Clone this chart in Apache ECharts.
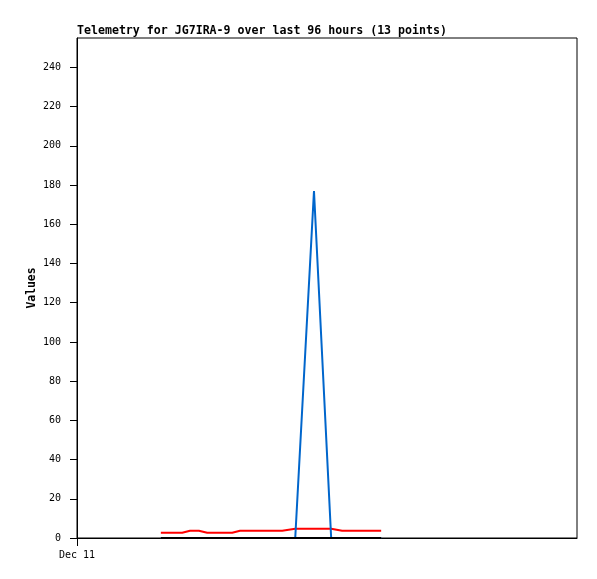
<!DOCTYPE html>
<html><head><meta charset="utf-8">
<script src="https://cdn.jsdelivr.net/npm/echarts@6/dist/echarts.min.js"></script>
<style>html,body{margin:0;padding:0;background:#fff}#c{width:597px;height:579px}</style>
</head><body><div id="c"></div>
<script>
// hours after Dec 11 00:00
const hours = [16.1, 20.2, 21.7, 23.4, 25.0, 29.8, 31.3, 39.4, 41.9, 45.5, 48.8, 50.9, 58.4];
const redValues = [2.7, 2.7, 3.7, 3.7, 2.7, 2.7, 3.7, 3.7, 4.7, 4.7, 4.7, 3.7, 3.7];
const blueValues = [0, 0, 0, 0, 0, 0, 0, 0, 0, 177, 0, 0, 0];
const blackValues = [0, 0, 0, 0, 0, 0, 0, 0, 0, 0, 0, 0, 0];
const yTicks = [0, 20, 40, 60, 80, 100, 120, 140, 160, 180, 200, 220, 240];
const xLabel = 'Dec 11';
const titleText = 'Telemetry for JG7IRA-9 over last 96 hours (13 points)';

const mono = '"DejaVu Sans Mono", monospace';
const pair = (vals) => hours.map((h, i) => [h, vals[i]]);
const chart = echarts.init(document.getElementById('c'));
chart.setOption({
  animation: false,
  backgroundColor: '#fff',
  title: { text: titleText, left: 72, top: 20, textStyle: { fontFamily: mono, fontSize: 11.6, fontWeight: 'bold', color: '#000' } },
  grid: { left: 77, top: 38, width: 500, height: 500, show: true, borderColor: '#000', borderWidth: 1, backgroundColor: '#fff' },
  xAxis: {
    type: 'value', min: 0, max: 96,
    axisLine: { show: true, onZero: false, lineStyle: { color: '#000', width: 1 } },
    axisTick: { show: true, length: 8, customValues: [0], lineStyle: { color: '#000' } },
    axisLabel: { customValues: [0], formatter: () => xLabel, margin: 12, fontFamily: mono, fontSize: 10, color: '#000' },
    splitLine: { show: false }
  },
  yAxis: {
    type: 'value', min: 0, max: 255,
    name: 'Values', nameLocation: 'middle', nameGap: 39, nameMoveOverlap: false,
    nameTextStyle: { fontFamily: mono, fontSize: 11.4, fontWeight: 'bold', color: '#000' },
    axisLine: { show: true, lineStyle: { color: '#000', width: 1 } },
    axisTick: { show: true, length: 7, customValues: yTicks, lineStyle: { color: '#000' } },
    axisLabel: { customValues: yTicks, margin: 16, fontFamily: mono, fontSize: 10, color: '#000' },
    splitLine: { show: false }
  },
  series: [
    { type: 'line', data: pair(redValues), symbol: 'none', lineStyle: { color: '#ff0000', width: 2 }, z: 2 },
    { type: 'line', data: pair(blueValues), symbol: 'none', lineStyle: { color: '#0066cc', width: 2 }, z: 3 },
    { type: 'line', data: pair(blackValues), symbol: 'none', lineStyle: { color: '#000000', width: 2 }, z: 4 }
  ]
});
</script></body></html>
